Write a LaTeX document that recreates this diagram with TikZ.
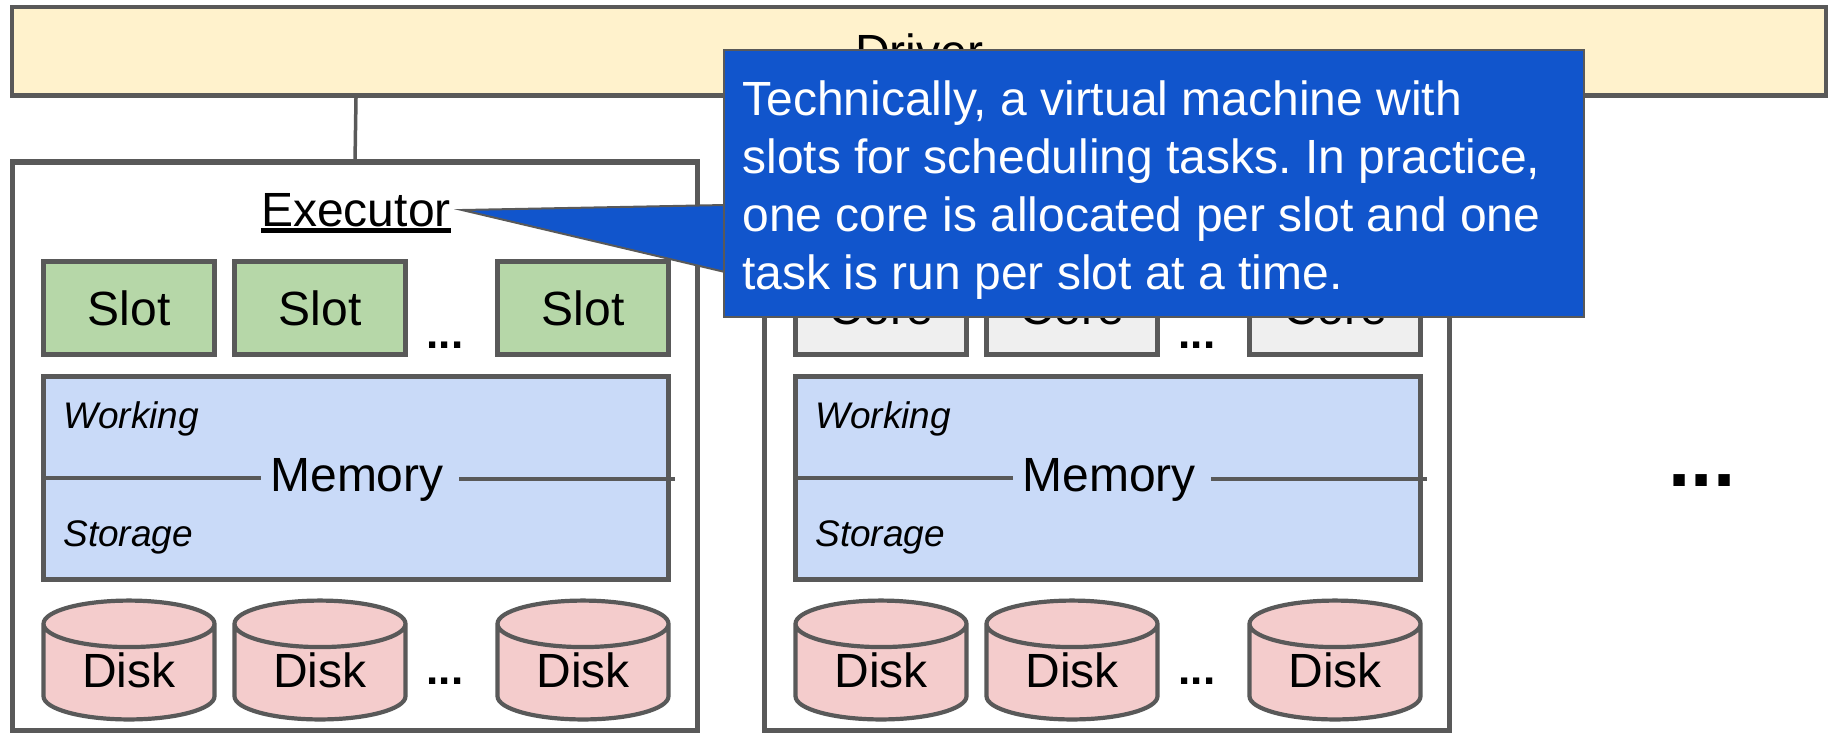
\documentclass[tikz,border=0pt]{standalone}
\usepackage{fontspec}
\setmainfont{Liberation Sans}
\usetikzlibrary{shapes.geometric}

\definecolor{edgegray}{HTML}{595959}
\definecolor{driverfill}{HTML}{FFF2CC}
\definecolor{slotfill}{HTML}{B6D7A8}
\definecolor{corefill}{HTML}{EFEFEF}
\definecolor{memoryfill}{HTML}{C9DAF8}
\definecolor{diskfill}{HTML}{F4CCCC}
\definecolor{notefill}{HTML}{1155CC}

\newcommand{\thickul}[1]{\vtop{\hbox{#1}\kern 2pt\hrule height 5pt}}

\tikzset{
    every node/.style={outer sep=0pt, font=\fontsize{48}{55}\selectfont},
    box/.style={draw=edgegray, line width=4.2pt, rectangle},
    unitbox/.style={box, minimum width=171pt, minimum height=93pt},
    diskcan/.style={draw=edgegray, line width=4.2pt, fill=diskfill, cylinder, shape border rotate=90,
        aspect=0.465, minimum width=171pt, minimum height=111pt, anchor=shape center, text depth=12pt},
    dots/.style={anchor=base, font=\fontsize{44}{50}\bfseries\selectfont},
    tag/.style={anchor=base west, font=\fontsize{37}{42}\itshape\selectfont},
}

\begin{document}
\begin{tikzpicture}[x=1pt, y=-1pt]
    \useasboundingbox (0,0) rectangle (1835,732);

    % ドライバの描画
    \node[box, fill=driverfill, minimum width=1814pt, minimum height=88.5pt] (driver) at (919,51.25) {Driver};
    \coordinate (driverport) at (356,98);

    % エグゼキュータの描画
    \foreach \ex/\dx/\unitname/\unitfill in {l/0/Slot/slotfill, r/752/Core/corefill} {
        \begin{scope}[xshift=\dx pt]
            \node[box, fill=white, line width=5.5pt, minimum width=685pt, minimum height=569pt] (exec\ex) at (355,446.5) {};

            \foreach \i/\x in {a/129, b/320, c/583} {
                \node[unitbox, fill=\unitfill] (unit\ex\i) at (\x,308) {\unitname};
                \node[diskcan] (disk\ex\i) at (\x,660) {Disk};
            }
            \node[dots] (unitdots\ex) at (445,348) {...};
            \node[dots] (diskdots\ex) at (445,684) {...};

            \node[box, fill=memoryfill, minimum width=625pt, minimum height=203pt] (mem\ex) at (356,478) {};
            \node[inner xsep=9.5pt, inner ysep=0pt] (memlabel\ex) at (357,480) {Memory};
            \coordinate (memend\ex) at (675,479);
            \draw[edgegray, line width=4pt] (mem\ex.west) -- (memlabel\ex.west |- mem\ex.west);
            \draw[edgegray, line width=4pt] ([xshift=6pt]memlabel\ex.east |- memend\ex) -- (memend\ex);
            \node[tag] (working\ex) at (60,428) {Working};
            \node[tag] (storage\ex) at (60,546) {Storage};
        \end{scope}
    }
    \node[anchor=base, inner sep=0pt] (title) at (356,226) {\thickul{Executor}};

    % 接続線
    \draw[edgegray, line width=3.5pt] (driverport) -- (execl.north);

    % 右側の省略記号
    \node[anchor=base, font=\fontsize{80}{90}\bfseries\selectfont] (moredots) at (1702,486) {...};

    % 吹き出しの描画
    \coordinate (notetip) at (462,210);
    \coordinate (notetop) at (725,205);
    \coordinate (notebot) at (725,272);
    \filldraw[fill=notefill, draw=edgegray, line width=2pt] (notetip) -- (notetop) -- (notebot) -- cycle;
    \node[draw=edgegray, fill=notefill, line width=2pt, rectangle, text=white, align=flush left, text width=822pt,
        inner xsep=19pt, inner ysep=0pt, minimum width=860pt, minimum height=267pt, anchor=north west,
        font=\fontsize{48}{58}\selectfont\frenchspacing] (note) at (723.5,49.5)
        {\rule{0pt}{49pt}Technically, a virtual machine with\\slots for scheduling tasks. In practice,\\one core is allocated per slot and one\\task is run per slot at a time.};
\end{tikzpicture}
\end{document}
